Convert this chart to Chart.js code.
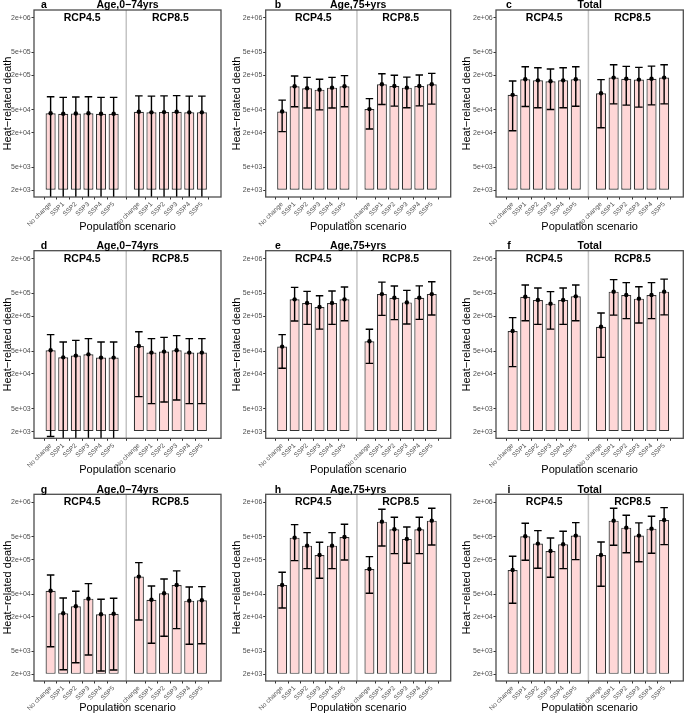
<!DOCTYPE html>
<html>
<head>
<meta charset="utf-8">
<script src="https://cdn.jsdelivr.net/npm/chart.js@4.4.1/dist/chart.umd.min.js"></script>
<style>
  html, body { margin: 0; padding: 0; background: #fff; }
  #wrap { position: relative; width: 685px; height: 718px; overflow: hidden; }
  #wrap canvas { position: absolute; }
</style>
</head>
<body>
<div id="wrap"></div>
<script>
// categories, facets, ticks
const scenarios = ['No change', 'SSP1', 'SSP2', 'SSP3', 'SSP4', 'SSP5'];
const rcps = ['RCP4.5', 'RCP8.5'];
const ageGroups = ['Age,0−74yrs', 'Age,75+yrs', 'Total'];
const letters = ['a', 'b', 'c', 'd', 'e', 'f', 'g', 'h', 'i'];
const yTicks = [2e3, 5e3, 2e4, 5e4, 2e5, 5e5, 2e6];

// values: first 6 = RCP4.5, last 6 = RCP8.5 (low values under 2e+03 are cut off by the axis)
const aMean = [44000, 43000, 43500, 44000, 43000, 43000, 46500, 45500, 46000, 46500, 45500, 45500];
const aLow  = [1200, 1200, 1200, 1200, 1200, 1200, 1200, 1200, 1200, 1200, 1200, 1200];
const aHigh = [85000, 83000, 84000, 85000, 83000, 83000, 88000, 87000, 88000, 89000, 87000, 87000];

const bMean = [47100, 129500, 119600, 113000, 122500, 129500, 51800, 140000, 131000, 122500, 131000, 140000];
const bLow  = [21000, 56800, 54000, 50300, 54000, 56800, 23300, 62200, 58300, 54600, 58900, 63200];
const bHigh = [74200, 195000, 185000, 171000, 185000, 198000, 79000, 214000, 201000, 187000, 203000, 217000];

const cMean = [91700, 171000, 164000, 158000, 164000, 171000, 98000, 183000, 175000, 169000, 175000, 183000];
const cLow  = [21800, 57500, 54600, 51000, 54600, 58000, 24600, 64000, 60800, 56100, 61400, 64000];
const cHigh = [160000, 283000, 272000, 258000, 272000, 283000, 169000, 306000, 287000, 276000, 290000, 306000];

const dMean = [51400, 38800, 41600, 43800, 38400, 38400, 61000, 46900, 48800, 51400, 46900, 46900];
const dLow  = [1640, 1100, 1150, 1200, 1100, 1100, 8090, 6120, 6520, 7060, 6120, 6120];
const dHigh = [96200, 71600, 76600, 82000, 71600, 71600, 108000, 82000, 86300, 92500, 82000, 82000];

const eMean = [59600, 394000, 340000, 290000, 340000, 394000, 73700, 486000, 421000, 349000, 421000, 486000];
const eLow  = [25100, 166000, 145000, 120000, 145000, 168000, 30500, 208000, 175000, 147000, 177000, 211000];
const eHigh = [96200, 636000, 542000, 456000, 551000, 645000, 119000, 785000, 670000, 564000, 676000, 795000];

const fMean = [111000, 438000, 383000, 332000, 383000, 444000, 132000, 536000, 468000, 405000, 468000, 536000];
const fLow  = [26800, 168000, 145000, 120000, 145000, 168000, 38800, 210000, 182000, 153000, 182000, 212000];
const fHigh = [190000, 697000, 618000, 536000, 618000, 697000, 228000, 865000, 767000, 653000, 767000, 885000];

const gMean = [57400, 23200, 30700, 41700, 22300, 22800, 101000, 40000, 51800, 72300, 38500, 39100];
const gLow  = [6050, 2400, 3180, 4340, 2280, 2380, 17700, 6950, 9200, 12500, 6670, 6840];
const gHigh = [108000, 42800, 56100, 76100, 40600, 42400, 177000, 69300, 91800, 127000, 66600, 67500];

const hMean = [72300, 483000, 350000, 241000, 350000, 496000, 137000, 918000, 677000, 459000, 677000, 955000];
const hLow  = [28600, 192000, 139000, 94400, 139000, 197000, 51800, 346000, 254000, 173000, 254000, 360000];
const hHigh = [120000, 813000, 590000, 401000, 590000, 826000, 225000, 1510000, 1096000, 742000, 1096000, 1570000];

const iMean = [132000, 511000, 380000, 283000, 371000, 524000, 241000, 955000, 721000, 524000, 693000, 982000];
const iLow  = [34600, 195000, 141000, 98400, 139000, 200000, 68600, 356000, 264000, 184000, 258000, 365000];
const iHigh = [229000, 861000, 640000, 477000, 624000, 882000, 406000, 1570000, 1185000, 872000, 1140000, 1610000];

const panels = [
  [aMean, aLow, aHigh], [bMean, bLow, bHigh], [cMean, cLow, cHigh],
  [dMean, dLow, dHigh], [eMean, eLow, eHigh], [fMean, fLow, fHigh],
  [gMean, gLow, gHigh], [hMean, hLow, hHigh], [iMean, iLow, iHigh]
];

// page layout (pixels)
const FONT = "'Liberation Sans', Arial, Helvetica, sans-serif";
const CW = 229, CH = 242;
const COL_LEFT = [0, 228, 456];
const ROW_TOP = [0, 236, 476];
const BOX_X = [[34, 221], [37.7, 222.7], [40, 227.3]];
const BOX_Y = [[10, 197], [14.7, 202.3], [18.3, 205]];
const Y_TITLE_PAD = [0.9, 2.7, 4.7];
const X_TITLE_Y = [227.4, 234.4, 232];
const LETTER_X = [44, 50, 53];
const Y_MIN = 1530, Y_MAX = 2.75e6;
const X_MIN = 0.3, X_MAX = 13.9;

// facet f, scenario s -> position on the x axis (gap of one slot between facets)
const xPos = i => Math.floor(i / 6) * 7 + (i % 6) + 1;
const tickPositions = scenarios.concat(scenarios).map((s, i) => xPos(i));

function fmtTick(v) {
  const e = Math.floor(Math.log10(v) + 1e-9);
  const m = Math.round(v / Math.pow(10, e));
  return m + 'e+' + String(e).padStart(2, '0');
}

function facetPlugin(mean, low, high, letter, title, col) {
  return {
    id: 'facets',
    afterDatasetsDraw(chart) {
      const { ctx, chartArea: ca, scales: { x, y } } = chart;
      ctx.save();
      ctx.beginPath();
      ctx.rect(ca.left, ca.top, ca.right - ca.left, ca.bottom - ca.top);
      ctx.clip();
      ctx.strokeStyle = '#000';
      ctx.lineWidth = 1.4;
      mean.forEach((m, i) => {
        const xv = xPos(i);
        const px = x.getPixelForValue(xv);
        const hw = x.getPixelForValue(xv + 0.3) - px;
        const yl = y.getPixelForValue(low[i]);
        const yh = y.getPixelForValue(high[i]);
        ctx.beginPath();
        ctx.moveTo(px, yl); ctx.lineTo(px, yh);
        ctx.moveTo(px - hw, yh); ctx.lineTo(px + hw, yh);
        ctx.moveTo(px - hw, yl); ctx.lineTo(px + hw, yl);
        ctx.stroke();
      });
      ctx.fillStyle = '#000';
      mean.forEach((m, i) => {
        ctx.beginPath();
        ctx.arc(x.getPixelForValue(xPos(i)), y.getPixelForValue(m), 2.2, 0, Math.PI * 2);
        ctx.fill();
      });
      ctx.restore();
    },
    afterDraw(chart) {
      const { ctx, chartArea: ca, scales: { x } } = chart;
      ctx.save();
      // facet divider
      const dx = x.getPixelForValue(7);
      ctx.strokeStyle = '#c4c4c4';
      ctx.lineWidth = 1.5;
      ctx.beginPath();
      ctx.moveTo(dx, ca.top); ctx.lineTo(dx, ca.bottom);
      ctx.stroke();
      // outer box
      ctx.strokeStyle = '#4d4d4d';
      ctx.lineWidth = 1.3;
      ctx.strokeRect(ca.left, ca.top, ca.right - ca.left, ca.bottom - ca.top);
      // strip labels
      ctx.fillStyle = '#000';
      ctx.font = 'bold 10.5px ' + FONT;
      ctx.textAlign = 'center';
      ctx.textBaseline = 'alphabetic';
      rcps.forEach((r, f) => {
        ctx.fillText(r, x.getPixelForValue(f * 7 + 3.5), ca.top + 10.8);
      });
      // panel title and letter
      ctx.fillText(title, (ca.left + ca.right) / 2, ca.top - 1.8);
      ctx.fillText(letter, LETTER_X[col], ca.top - 1.8);
      ctx.restore();
    }
  };
}

const wrap = document.getElementById('wrap');

panels.forEach(([mean, low, high], k) => {
  const col = k % 3, row = Math.floor(k / 3);
  const canvas = document.createElement('canvas');
  canvas.width = CW;
  canvas.height = CH;
  canvas.style.left = COL_LEFT[col] + 'px';
  canvas.style.top = ROW_TOP[row] + 'px';
  canvas.style.width = CW + 'px';
  canvas.style.height = CH + 'px';
  wrap.appendChild(canvas);

  const [bx0, bx1] = BOX_X[col];
  const [by0, by1] = BOX_Y[row];
  const xAxisH = X_TITLE_Y[row] + 6.6 - by1;

  new Chart(canvas, {
    type: 'bar',
    data: {
      datasets: [{
        data: mean.map((v, i) => ({ x: xPos(i), y: v })),
        backgroundColor: '#FFD7D7',
        borderColor: '#333',
        borderWidth: 1.2,
        borderSkipped: false,
        base: 2000,
        barPercentage: 0.8,
        categoryPercentage: 1
      }]
    },
    options: {
      responsive: false,
      animation: false,
      layout: { padding: { left: 0, right: CW - bx1, top: by0, bottom: CH - by1 - xAxisH } },
      plugins: { legend: { display: false }, tooltip: { enabled: false } },
      scales: {
        x: {
          type: 'linear',
          min: X_MIN,
          max: X_MAX,
          afterBuildTicks: s => { s.ticks = tickPositions.map(v => ({ value: v })); },
          afterFit: s => { s.height = xAxisH; },
          grid: { display: true, drawOnChartArea: false, drawTicks: true, tickLength: 2.5, color: '#333' },
          border: { display: false },
          ticks: {
            autoSkip: false, minRotation: 45, maxRotation: 45, padding: 1,
            font: { size: 6.5, family: FONT }, color: '#4d4d4d',
            callback: v => scenarios[(Math.round(v) - 1) % 7]
          },
          title: {
            display: true, text: 'Population scenario', color: '#000', padding: 0,
            font: { size: 11, family: FONT, lineHeight: 1.2 }
          }
        },
        y: {
          type: 'logarithmic',
          min: Y_MIN,
          max: Y_MAX,
          afterBuildTicks: s => { s.ticks = yTicks.map(v => ({ value: v })); },
          afterFit: s => { s.width = bx0; },
          grid: { display: true, drawOnChartArea: false, drawTicks: true, tickLength: 2.5, color: '#333' },
          border: { display: false },
          ticks: {
            autoSkip: false, padding: 0.8,
            font: { size: 7, family: FONT }, color: '#4d4d4d',
            callback: v => fmtTick(v)
          },
          title: {
            display: true, text: 'Heat−related death', color: '#000',
            padding: { top: Y_TITLE_PAD[col], bottom: 0 },
            font: { size: 11, family: FONT, lineHeight: 1.2 }
          }
        }
      }
    },
    plugins: [facetPlugin(mean, low, high, letters[k], ageGroups[col], col)]
  });
});
</script>
</body>
</html>
